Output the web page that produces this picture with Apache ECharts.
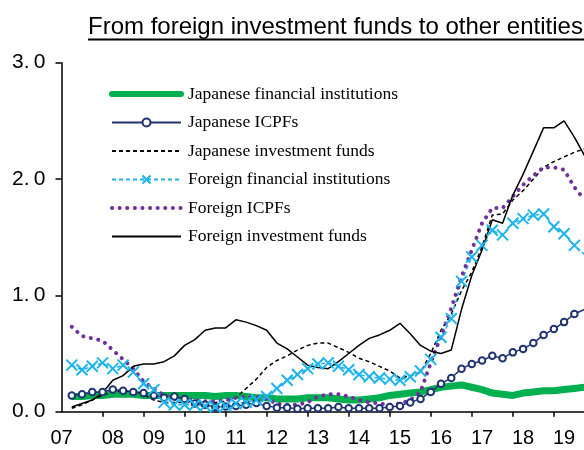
<!DOCTYPE html>
<html>
<head>
<meta charset="utf-8">
<script src="https://cdn.jsdelivr.net/npm/echarts@6/dist/echarts.min.js"></script>
<style>
html, body { margin: 0; padding: 0; background: #fff; }
#chart { width: 584px; height: 450px; }
</style>
</head>
<body>
<div id="chart"></div>
<script>
////////////////////
// data (quarterly, first point one quarter after the 07 tick)
////////////////////
var yearLabels = ['07','08','09','10','11','12','13','14','15','16','17','18','19'];

var seriesNames = [
    'Japanese financial institutions',
    'Japanese ICPFs',
    'Japanese investment funds',
    'Foreign financial institutions',
    'Foreign ICPFs',
    'Foreign investment funds'
];

var jpFinInst = [0.13,0.13,0.14,0.14,0.15,0.15,0.15,0.14,0.14,0.14,
    0.14,0.14,0.14,0.14,0.13,0.14,0.14,0.13,0.12,0.12,
    0.11,0.11,0.11,0.12,0.12,0.12,0.11,0.10,0.10,0.11,
    0.12,0.14,0.15,0.16,0.17,0.19,0.21,0.22,0.23,0.21,
    0.19,0.16,0.15,0.14,0.16,0.17,0.18,0.18,0.19,0.20,0.21];

var jpIcpf = [0.14,0.15,0.17,0.17,0.19,0.18,0.17,0.16,0.14,0.12,
    0.13,0.11,0.07,0.06,0.04,0.045,0.05,0.06,0.075,0.05,
    0.035,0.035,0.025,0.03,0.03,0.03,0.04,0.03,0.03,0.03,
    0.03,0.04,0.05,0.08,0.11,0.17,0.24,0.29,0.37,0.41,
    0.44,0.48,0.46,0.51,0.54,0.59,0.66,0.71,0.77,0.84,0.88];

var jpInvFunds = [0.03,0.06,0.10,0.14,0.17,0.18,0.17,0.15,0.10,0.08,
    0.08,0.08,0.08,0.08,0.08,0.09,0.12,0.20,0.28,0.38,
    0.44,0.48,0.53,0.57,0.59,0.59,0.55,0.51,0.46,0.43,
    0.39,0.35,0.29,0.31,0.34,0.50,0.70,0.84,1.04,1.20,
    1.42,1.69,1.70,1.82,1.90,2.00,2.10,2.15,2.19,2.23,2.26];

var foreignFinInst = [0.40,0.36,0.39,0.42,0.37,0.40,0.34,0.24,0.19,0.08,
    0.06,0.06,0.06,0.05,0.04,0.05,0.07,0.08,0.10,0.13,
    0.20,0.27,0.32,0.37,0.41,0.42,0.39,0.36,0.32,0.30,
    0.29,0.28,0.27,0.30,0.35,0.45,0.64,0.80,1.12,1.33,
    1.43,1.56,1.52,1.62,1.66,1.69,1.70,1.59,1.53,1.43,1.35];

var foreignIcpf = [0.73,0.65,0.63,0.61,0.53,0.45,0.37,0.26,0.20,0.14,
    0.11,0.10,0.10,0.09,0.09,0.10,0.12,0.13,0.13,0.11,
    0.07,0.06,0.06,0.08,0.13,0.15,0.15,0.13,0.10,0.08,
    0.07,0.06,0.07,0.10,0.17,0.42,0.65,0.89,1.16,1.39,
    1.62,1.75,1.75,1.85,1.95,2.03,2.10,2.10,2.08,1.93,1.82];

var foreignInvFunds = [0.04,0.07,0.10,0.16,0.27,0.31,0.39,0.41,0.41,0.43,
    0.48,0.57,0.62,0.70,0.72,0.72,0.79,0.77,0.74,0.70,
    0.59,0.54,0.47,0.40,0.38,0.37,0.43,0.50,0.57,0.63,
    0.66,0.70,0.76,0.67,0.57,0.52,0.50,0.53,0.88,1.17,
    1.39,1.65,1.62,1.86,2.04,2.24,2.44,2.44,2.50,2.36,2.20];

function toPoints(arr){
    return arr.map(function(v, k){ return [k + 1, v]; });
}

////////////////////
// chart
////////////////////
var green = '#00b050';
var navy = '#1f3470';
var skyblue = '#1cb4ec';
var purple = '#7030a0';
var sans = 'Liberation Sans, Arial, sans-serif';
var serif = 'Liberation Serif, Times New Roman, serif';
var dots = [0.1, 7.5];

var mychart = echarts.init(document.getElementById('chart'), null, {renderer: 'canvas'});

var chart_option = {
    animation: false,
    backgroundColor: '#fff',
    title: {
        text: 'From foreign investment funds to other entities',
        left: 88,
        top: 15,
        padding: 0,
        textStyle: { fontFamily: sans, fontSize: 24, fontWeight: 'normal', color: '#000' }
    },
    graphic: [
        { type: 'line', shape: { x1: 88, y1: 39.5, x2: 584, y2: 39.5 }, style: { stroke: '#000', lineWidth: 2 } }
    ],
    legend: {
        orient: 'vertical',
        left: 109,
        top: 85,
        padding: 0,
        itemWidth: 69,
        itemHeight: 10,
        itemGap: 10.5,
        textStyle: { fontFamily: serif, fontSize: 17.5, color: '#000', padding: [0, 0, 0, 2] },
        data: [
            { name: seriesNames[0], itemStyle: { opacity: 0 }, lineStyle: { width: 6, cap: 'round' } },
            { name: seriesNames[1] },
            { name: seriesNames[2], itemStyle: { opacity: 0 } },
            { name: seriesNames[3] },
            { name: seriesNames[4], itemStyle: { opacity: 0 }, lineStyle: { width: 4, type: dots, cap: 'round' } },
            { name: seriesNames[5], itemStyle: { opacity: 0 } }
        ]
    },
    grid: { left: 61.5, top: 62.7, bottom: 38.3, right: 0 },
    xAxis: {
        type: 'value',
        min: 0,
        max: 50.94,
        splitLine: { show: false },
        axisLine: { lineStyle: { color: '#000', width: 1.5 } },
        axisTick: {
            length: 5,
            lineStyle: { color: '#000', width: 1.5 },
            customValues: yearLabels.map(function(y, k){ return 4 * k; }).slice(1)
        },
        axisLabel: {
            margin: 17,
            fontFamily: sans,
            fontSize: 20,
            color: '#000',
            customValues: yearLabels.map(function(y, k){ return k === 0 ? 0 : 4 * k + 1; }),
            formatter: function(v){ return yearLabels[Math.floor(v / 4)]; }
        }
    },
    yAxis: {
        type: 'value',
        min: 0,
        max: 3,
        interval: 1,
        splitLine: { show: false },
        axisLine: { show: true, lineStyle: { color: '#000', width: 1.5 } },
        axisTick: { show: true, length: 6, lineStyle: { color: '#000', width: 1.5 } },
        axisLabel: {
            margin: 16,
            fontFamily: sans,
            fontSize: 21,
            color: '#000',
            formatter: function(v){ return v.toFixed(1).replace('.', '.\u2009'); }
        }
    },
    series: [
        {
            name: seriesNames[0], type: 'line', symbol: 'none',
            lineStyle: { color: green, width: 7 },
            itemStyle: { color: green },
            data: toPoints(jpFinInst)
        },
        {
            name: seriesNames[1], type: 'line', symbol: 'emptyCircle', symbolSize: 6.5,
            lineStyle: { color: navy, width: 1.5 },
            itemStyle: { color: navy, borderWidth: 2 },
            data: toPoints(jpIcpf)
        },
        {
            name: seriesNames[2], type: 'line', symbol: 'none',
            lineStyle: { color: '#000', width: 1.5, type: [4, 3] },
            itemStyle: { color: '#000' },
            data: toPoints(jpInvFunds)
        },
        {
            name: seriesNames[3], type: 'line',
            symbol: 'path://M0,0L10,10M10,0L0,10', symbolSize: 11,
            lineStyle: { color: skyblue, width: 1.5, type: [4, 3] },
            itemStyle: { color: skyblue, borderColor: skyblue, borderWidth: 2 },
            data: toPoints(foreignFinInst)
        },
        {
            name: seriesNames[4], type: 'line', symbol: 'none',
            lineStyle: { color: purple, width: 4, type: dots, cap: 'round' },
            itemStyle: { color: purple },
            data: toPoints(foreignIcpf)
        },
        {
            name: seriesNames[5], type: 'line', symbol: 'none',
            lineStyle: { color: '#000', width: 1.5 },
            itemStyle: { color: '#000' },
            data: toPoints(foreignInvFunds)
        }
    ]
};
mychart.setOption(chart_option);
</script>
</body>
</html>
